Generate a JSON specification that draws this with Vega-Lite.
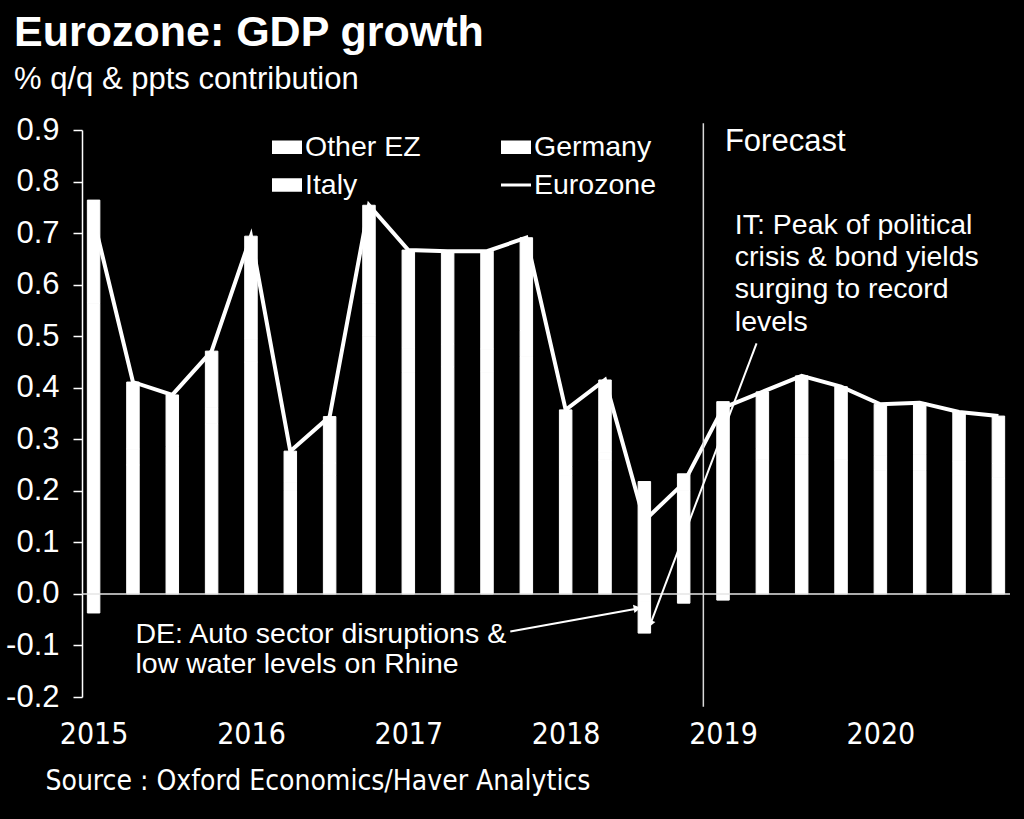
{
  "$schema": "https://vega.github.io/schema/vega-lite/v6.json",
  "background": "black",
  "width": 928,
  "height": 567,
  "autosize": {"type": "none"},
  "padding": {"left": 82, "top": 130, "right": 14, "bottom": 122},
  "config": {"view": {"stroke": null}, "font": "Liberation Sans"},
  "title": {
    "text": "Eurozone: GDP growth",
    "subtitle": "% q/q & ppts contribution",
    "anchor": "start",
    "frame": "group",
    "dx": -68,
    "offset": 19,
    "font": "Liberation Sans",
    "fontSize": 43,
    "fontWeight": "bold",
    "color": "white",
    "subtitleFont": "Liberation Sans",
    "subtitleFontSize": 31,
    "subtitleColor": "white",
    "subtitlePadding": 10
  },
  "datasets": {
    "contrib": [
      {"t": 2015.0, "series": "Other EZ", "value": 0.564}, {"t": 2015.0, "series": "Germany", "value": 0.2}, {"t": 2015.0, "series": "Italy", "value": -0.037},
      {"t": 2015.25, "series": "Other EZ", "value": 0.25}, {"t": 2015.25, "series": "Germany", "value": 0.13}, {"t": 2015.25, "series": "Italy", "value": 0.031},
      {"t": 2015.5, "series": "Other EZ", "value": 0.25}, {"t": 2015.5, "series": "Germany", "value": 0.1}, {"t": 2015.5, "series": "Italy", "value": 0.036},
      {"t": 2015.75, "series": "Other EZ", "value": 0.33}, {"t": 2015.75, "series": "Germany", "value": 0.11}, {"t": 2015.75, "series": "Italy", "value": 0.031},
      {"t": 2016.0, "series": "Other EZ", "value": 0.45}, {"t": 2016.0, "series": "Germany", "value": 0.2}, {"t": 2016.0, "series": "Italy", "value": 0.044},
      {"t": 2016.25, "series": "Other EZ", "value": 0.2}, {"t": 2016.25, "series": "Germany", "value": 0.06}, {"t": 2016.25, "series": "Italy", "value": 0.017},
      {"t": 2016.5, "series": "Other EZ", "value": 0.23}, {"t": 2016.5, "series": "Germany", "value": 0.09}, {"t": 2016.5, "series": "Italy", "value": 0.024},
      {"t": 2016.75, "series": "Other EZ", "value": 0.5}, {"t": 2016.75, "series": "Germany", "value": 0.19}, {"t": 2016.75, "series": "Italy", "value": 0.064},
      {"t": 2017.0, "series": "Other EZ", "value": 0.43}, {"t": 2017.0, "series": "Germany", "value": 0.19}, {"t": 2017.0, "series": "Italy", "value": 0.047},
      {"t": 2017.25, "series": "Other EZ", "value": 0.44}, {"t": 2017.25, "series": "Germany", "value": 0.18}, {"t": 2017.25, "series": "Italy", "value": 0.045},
      {"t": 2017.5, "series": "Other EZ", "value": 0.43}, {"t": 2017.5, "series": "Germany", "value": 0.19}, {"t": 2017.5, "series": "Italy", "value": 0.045},
      {"t": 2017.75, "series": "Other EZ", "value": 0.46}, {"t": 2017.75, "series": "Germany", "value": 0.18}, {"t": 2017.75, "series": "Italy", "value": 0.051},
      {"t": 2018.0, "series": "Other EZ", "value": 0.23}, {"t": 2018.0, "series": "Germany", "value": 0.11}, {"t": 2018.0, "series": "Italy", "value": 0.017},
      {"t": 2018.25, "series": "Other EZ", "value": 0.26}, {"t": 2018.25, "series": "Germany", "value": 0.14}, {"t": 2018.25, "series": "Italy", "value": 0.015},
      {"t": 2018.5, "series": "Other EZ", "value": 0.218}, {"t": 2018.5, "series": "Germany", "value": -0.061}, {"t": 2018.5, "series": "Italy", "value": -0.015},
      {"t": 2018.75, "series": "Other EZ", "value": 0.2}, {"t": 2018.75, "series": "Germany", "value": 0.033}, {"t": 2018.75, "series": "Italy", "value": -0.018},
      {"t": 2019.0, "series": "Other EZ", "value": 0.28}, {"t": 2019.0, "series": "Germany", "value": 0.093}, {"t": 2019.0, "series": "Italy", "value": -0.012},
      {"t": 2019.25, "series": "Other EZ", "value": 0.26}, {"t": 2019.25, "series": "Germany", "value": 0.11}, {"t": 2019.25, "series": "Italy", "value": 0.022},
      {"t": 2019.5, "series": "Other EZ", "value": 0.27}, {"t": 2019.5, "series": "Germany", "value": 0.12}, {"t": 2019.5, "series": "Italy", "value": 0.033},
      {"t": 2019.75, "series": "Other EZ", "value": 0.26}, {"t": 2019.75, "series": "Germany", "value": 0.11}, {"t": 2019.75, "series": "Italy", "value": 0.032},
      {"t": 2020.0, "series": "Other EZ", "value": 0.24}, {"t": 2020.0, "series": "Germany", "value": 0.1}, {"t": 2020.0, "series": "Italy", "value": 0.028},
      {"t": 2020.25, "series": "Other EZ", "value": 0.24}, {"t": 2020.25, "series": "Germany", "value": 0.1}, {"t": 2020.25, "series": "Italy", "value": 0.031},
      {"t": 2020.5, "series": "Other EZ", "value": 0.23}, {"t": 2020.5, "series": "Germany", "value": 0.095}, {"t": 2020.5, "series": "Italy", "value": 0.028},
      {"t": 2020.75, "series": "Other EZ", "value": 0.225}, {"t": 2020.75, "series": "Germany", "value": 0.092}, {"t": 2020.75, "series": "Italy", "value": 0.028}
    ],
    "ez": [
      {"t": 2015.0, "value": 0.727}, {"t": 2015.25, "value": 0.411}, {"t": 2015.5, "value": 0.386}, {"t": 2015.75, "value": 0.471},
      {"t": 2016.0, "value": 0.694}, {"t": 2016.25, "value": 0.277}, {"t": 2016.5, "value": 0.344}, {"t": 2016.75, "value": 0.754},
      {"t": 2017.0, "value": 0.667}, {"t": 2017.25, "value": 0.665}, {"t": 2017.5, "value": 0.665}, {"t": 2017.75, "value": 0.691},
      {"t": 2018.0, "value": 0.357}, {"t": 2018.25, "value": 0.415}, {"t": 2018.5, "value": 0.142}, {"t": 2018.75, "value": 0.215},
      {"t": 2019.0, "value": 0.361}, {"t": 2019.25, "value": 0.392}, {"t": 2019.5, "value": 0.423}, {"t": 2019.75, "value": 0.402},
      {"t": 2020.0, "value": 0.368}, {"t": 2020.25, "value": 0.371}, {"t": 2020.5, "value": 0.353}, {"t": 2020.75, "value": 0.345}
    ],
    "forecast": [{"t": 2018.875, "value": -0.219, "value2": 0.913}],
    "arrows": [
      {"t": 2017.648, "value": -0.073, "t2": 2018.45, "value2": -0.029},
      {"t": 2019.213, "value": 0.486, "t2": 2018.54, "value2": -0.057}
    ],
    "heads": [
      {"t": 2018.455, "value": -0.028, "angle": 350},
      {"t": 2018.537, "value": -0.058, "angle": 111}
    ],
    "forecastNote": [{"t": 2019.012, "value": 0.876, "label": "Forecast"}],
    "itNote": [{"t": 2019.075, "value": 0.716, "label": ["IT: Peak of political", "crisis & bond yields", "surging to record", "levels"]}],
    "deNote": [{"t": 2015.266, "value": -0.078, "label": ["DE: Auto sector disruptions &", "low water levels on Rhine"]}]
  },
  "layer": [
    {
      "data": {"name": "contrib"},
      "mark": {"type": "bar", "width": 12.5, "stroke": "white", "strokeWidth": 1},
      "encoding": {
        "x": {
          "field": "t", "type": "quantitative",
          "scale": {"domain": [2014.958, 2020.792], "nice": false, "zero": false},
          "axis": {
            "values": [2015, 2016, 2017, 2018, 2019, 2020],
            "format": "d",
            "title": "Source : Oxford Economics/Haver Analytics",
            "titleX": -37, "titleY": 84,
            "titleAlign": "left", "titleBaseline": "middle",
            "titleFont": "Liberation Sans Narrow, DejaVu Sans Condensed, Liberation Sans",
            "titleFontSize": 28, "titleFontWeight": "normal", "titleColor": "white",
            "domain": false, "ticks": false, "grid": false,
            "labelColor": "white",
            "labelFont": "Liberation Sans Narrow, DejaVu Sans Condensed, Liberation Sans",
            "labelFontSize": 30, "labelPadding": 22
          }
        },
        "y": {
          "field": "value", "type": "quantitative", "stack": "zero",
          "scale": {"domain": [-0.2, 0.9], "nice": false, "zero": false},
          "axis": {
            "values": [-0.2, -0.1, 0, 0.1, 0.2, 0.3, 0.4, 0.5, 0.6, 0.7, 0.8, 0.9],
            "labelExpr": "datum.value < -0.001 ? '-' + format(-datum.value, '.1f') : format(abs(datum.value), '.1f')",
            "title": null, "grid": false,
            "domainColor": "white", "domainWidth": 1.5,
            "tickColor": "white", "tickSize": 9, "tickWidth": 1.5,
            "labelColor": "white", "labelFont": "Liberation Sans", "labelFontSize": 31, "labelPadding": 14
          }
        },
        "color": {
          "field": "series", "type": "nominal",
          "scale": {"domain": ["Other EZ", "Germany", "Italy", "Eurozone"], "range": ["white", "white", "white", "white"]},
          "legend": {
            "title": null, "orient": "none", "legendX": 190, "legendY": 2,
            "direction": "horizontal",
            "columns": 2, "columnPadding": 80, "rowPadding": 8,
            "labelFont": "Liberation Sans", "labelFontSize": 28.5, "labelColor": "white", "labelOffset": 3,
            "symbolSize": 900, "symbolStrokeWidth": 0, "symbolOpacity": 1, "symbolStrokeColor": "transparent",
            "encode": {"symbols": {"update": {
              "shape": {"signal": "datum.value === 'Eurozone' ? 'M-1,-0.1H1V0.1H-1Z' : 'M-1,-0.45H1V0.45H-1Z'"},
              "fill": {"value": "white"},
              "stroke": {"value": "transparent"},
              "strokeWidth": {"value": 0},
              "opacity": {"value": 1}
            }}}
          }
        },
        "order": {"field": "series", "sort": "descending"}
      }
    },
    {
      "data": {"name": "ez"},
      "mark": {"type": "line", "color": "white", "strokeWidth": 4},
      "encoding": {
        "x": {"field": "t", "type": "quantitative"},
        "y": {"field": "value", "type": "quantitative"}
      }
    },
    {
      "data": {"values": [{}]},
      "mark": {"type": "rule", "color": "#e6e6e6", "strokeWidth": 1.5},
      "encoding": {"y": {"datum": 0}}
    },
    {
      "data": {"name": "forecast"},
      "mark": {"type": "rule", "color": "#d9d9d9", "strokeWidth": 1.5},
      "encoding": {
        "x": {"field": "t", "type": "quantitative"},
        "y": {"field": "value", "type": "quantitative"},
        "y2": {"field": "value2"}
      }
    },
    {
      "data": {"name": "arrows"},
      "mark": {"type": "rule", "color": "white", "strokeWidth": 2},
      "encoding": {
        "x": {"field": "t", "type": "quantitative"},
        "x2": {"field": "t2"},
        "y": {"field": "value", "type": "quantitative"},
        "y2": {"field": "value2"}
      }
    },
    {
      "data": {"name": "heads"},
      "mark": {"type": "point", "shape": "triangle-right", "filled": true, "color": "white", "size": 70, "opacity": 1},
      "encoding": {
        "x": {"field": "t", "type": "quantitative"},
        "y": {"field": "value", "type": "quantitative"},
        "angle": {"field": "angle", "type": "quantitative", "scale": null}
      }
    },
    {
      "data": {"name": "forecastNote"},
      "mark": {"type": "text", "align": "left", "baseline": "middle", "color": "white", "font": "Liberation Sans", "fontSize": 31},
      "encoding": {
        "x": {"field": "t", "type": "quantitative"},
        "y": {"field": "value", "type": "quantitative"},
        "text": {"field": "label"}
      }
    },
    {
      "data": {"name": "itNote"},
      "mark": {"type": "text", "align": "left", "baseline": "middle", "color": "white", "font": "Liberation Sans", "fontSize": 28.5, "lineHeight": 32.3},
      "encoding": {
        "x": {"field": "t", "type": "quantitative"},
        "y": {"field": "value", "type": "quantitative"},
        "text": {"field": "label"}
      }
    },
    {
      "data": {"name": "deNote"},
      "mark": {"type": "text", "align": "left", "baseline": "middle", "color": "white", "font": "Liberation Sans", "fontSize": 28.5, "lineHeight": 30},
      "encoding": {
        "x": {"field": "t", "type": "quantitative"},
        "y": {"field": "value", "type": "quantitative"},
        "text": {"field": "label"}
      }
    }
  ]
}
